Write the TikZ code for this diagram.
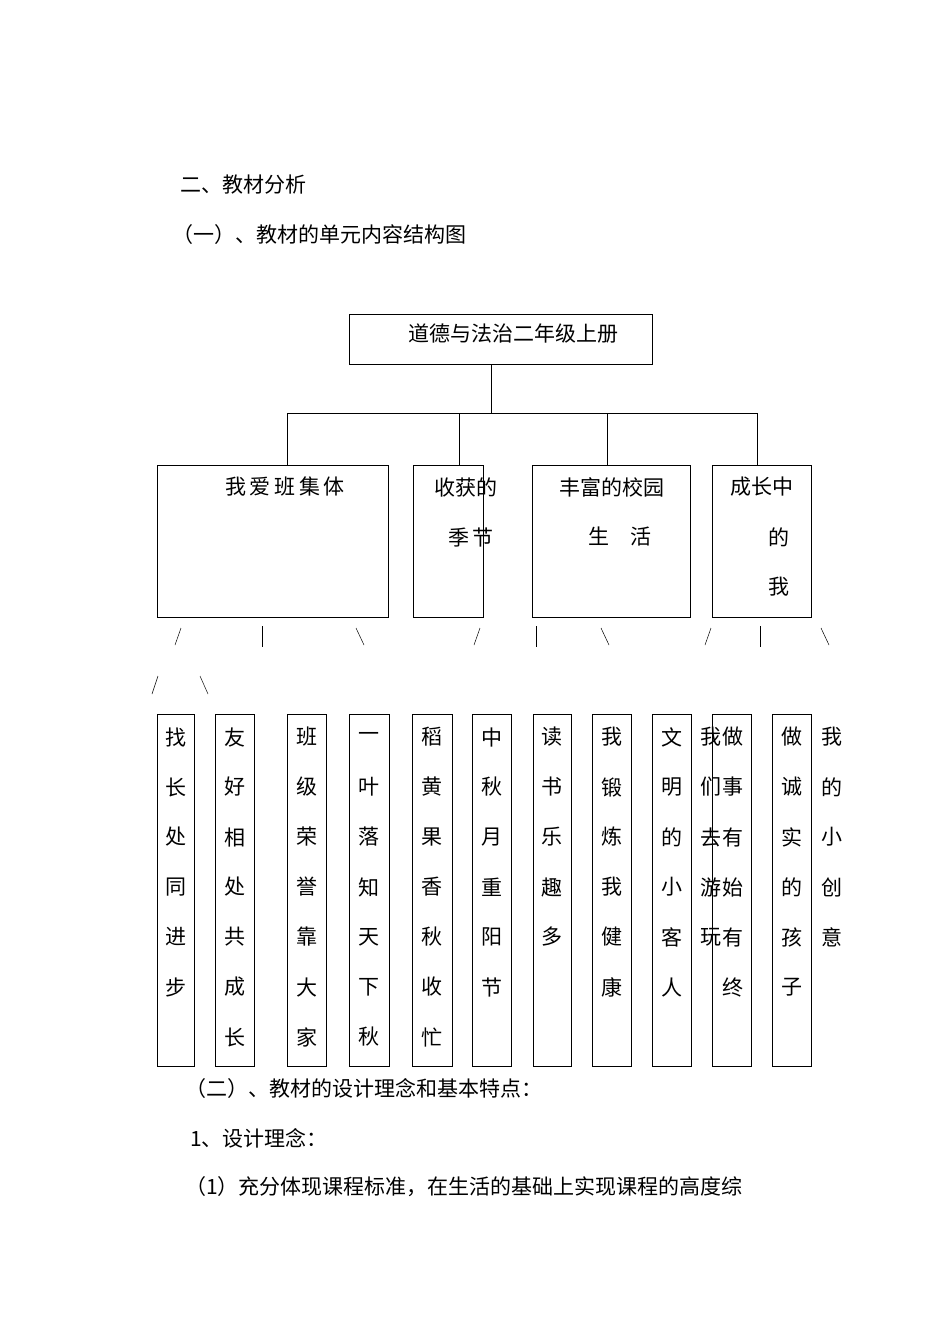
\documentclass[tikz,border=0pt]{standalone}
\usepackage{fontspec}
\setmainfont{Noto Sans CJK SC}
\begin{document}
\begin{tikzpicture}[x=1pt,y=-1pt,
  bx/.style={draw,line width=1pt},
  tx/.style={font=\fontsize{21}{21}\selectfont,inner sep=0pt},
  ln/.style={line width=0.8pt}]
\useasboundingbox[fill=white] (0,0) rectangle (950,1344);
\node[tx,anchor=west] (h1) at (180,185) {二、教材分析};
\node[tx,anchor=west] (h2) at (172,235) {（一）、教材的单元内容结构图};
\draw[bx] (349,314) rectangle (652,364);
\node[tx] (root) at (513,334) {道德与法治二年级上册};
\coordinate (r) at (491,364);
\draw[ln] (r) -- (491,413) (287,413) -- (757,413);
\foreach \x in {287,459,607,757} \draw[ln] (\x,413) -- (\x,465);
\draw[bx] (157,465) rectangle (388,617);
\draw[bx] (413,465) rectangle (483,617);
\draw[bx] (532,465) rectangle (690,617);
\draw[bx] (712,465) rectangle (811,617);
\node[tx] (u1) at (285,487) {我\,爱\,班\,集\,体};
\node[tx] (u2a) at (466,487) {收获的};
\node[tx] (u2b) at (471,537) {季\,节};
\node[tx] (u3a) at (612,487) {丰富的校园};
\node[tx] (u3b) at (620,537) {生\quad 活};
\node[tx] (u4a) at (762,487) {成长中};
\node[tx] (u4b) at (779,537) {的};
\node[tx] (u4c) at (779,587) {我};
\foreach \x in {178,477,708} \draw[ln,line width=0.5pt] (\x+3,628) -- (\x-3,645);
\foreach \x in {262,536,760} \draw[ln,line width=0.5pt] (\x,626) -- (\x,647);
\foreach \x in {360,605,825} \draw[ln,line width=0.5pt] (\x-4,628) -- (\x+4,645);
\draw[line width=0.5pt] (158,676) -- (152,694);
\draw[line width=0.5pt] (200,676) -- (208,694);
\def\col#1#2#3{\draw[bx] (#1,714) rectangle (#2,1066);
  \foreach \c [count=\i from 0] in {#3} \node[tx] at ({(#1+#2)/2},737+50*\i) {\c};}
\col{157}{194}{找,长,处,同,进,步}
\col{215}{254}{友,好,相,处,共,成,长}
\col{287}{326}{班,级,荣,誉,靠,大,家}
\col{349}{389}{一,叶,落,知,天,下,秋}
\col{412}{452}{稻,黄,果,香,秋,收,忙}
\col{472}{511}{中,秋,月,重,阳,节}
\col{533}{571}{读,书,乐,趣,多}
\col{592}{631}{我,锻,炼,我,健,康}
\col{652}{691}{文,明,的,小,客,人}
\draw[bx] (712,714) rectangle (751,1066);
\draw[bx] (772,714) rectangle (811,1066);
\foreach \c [count=\i from 0] in {我,们,去,游,玩} \node[tx] at (711,737+50*\i) {\c};
\foreach \c [count=\i from 0] in {做,事,有,始,有,终} \node[tx] at (733,737+50*\i) {\c};
\foreach \c [count=\i from 0] in {做,诚,实,的,孩,子} \node[tx] at (792,737+50*\i) {\c};
\foreach \c [count=\i from 0] in {我,的,小,创,意} \node[tx] at (832,737+50*\i) {\c};
\node[tx,anchor=west] (h3) at (185,1088) {（二）、教材的设计理念和基本特点：};
\node[tx,anchor=west] (h4) at (190,1138) {1、设计理念：};
\node[tx,anchor=west] (h5) at (185,1187) {（1）充分体现课程标准，在生活的基础上实现课程的高度综};
\end{tikzpicture}
\end{document}
